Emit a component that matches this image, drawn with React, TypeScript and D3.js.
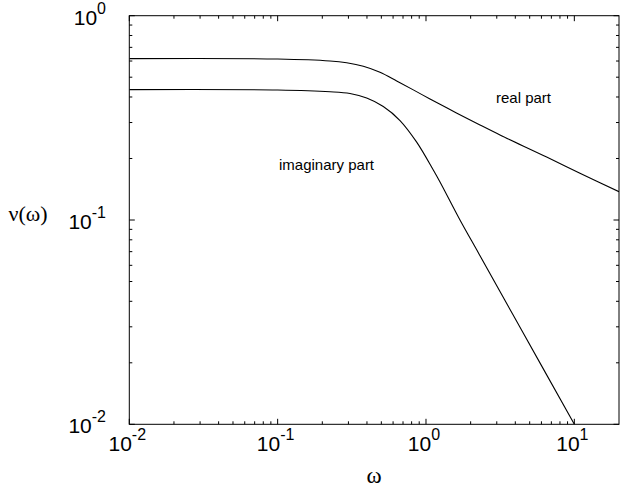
import React from "react";
import * as d3 from "d3";

// Real part of nu(omega)
const realOmega = [0.01, 0.1, 0.2254, 0.292, 0.3779, 0.4897, 0.6345, 0.8212, 1.064, 1.379, 1.784, 2.312, 3.153, 6.509, 10.91, 20.0];
const realValue = [0.6163, 0.6138, 0.6003, 0.5883, 0.5661, 0.529, 0.4795, 0.4335, 0.3911, 0.3540, 0.3212, 0.2917, 0.2607, 0.2034, 0.1693, 0.1376];

// Imaginary part of nu(omega)
const imagOmega = [0.01, 0.1, 0.2254, 0.3074, 0.3983, 0.5154, 0.6681, 0.8655, 1.12, 1.243, 1.695, 2.277, 4.369, 10];
const imagValue = [0.4345, 0.4328, 0.4246, 0.4161, 0.3955, 0.3594, 0.3069, 0.2405, 0.1757, 0.1535, 0.1, 0.0682, 0.02927, 0.01];

const xTickExps = [-2, -1, 0, 1];
const yTickExps = [-2, -1, 0];
const seriesLabels = ["real part", "imaginary part"];

const W = 621;
const H = 488;
const left = 129.3, right = 619, top = 15.7, bottom = 424.3;

export default function App() {
  const x = d3.scaleLog().domain([0.01, 20]).range([left, right]);
  const y = d3.scaleLog().domain([0.01, 1]).range([bottom, top]);

  const line = d3
    .line<[number, number]>()
    .x((d) => x(d[0]))
    .y((d) => y(d[1]))
    .curve(d3.curveCatmullRom.alpha(0.5));

  const realPts = realOmega.map((w, i) => [w, realValue[i]] as [number, number]);
  const imagPts = imagOmega.map((w, i) => [w, imagValue[i]] as [number, number]);

  const xMinor: number[] = [];
  for (const e of [-2, -1, 0, 1]) {
    for (let k = 2; k <= 9; k++) {
      const v = k * Math.pow(10, e);
      if (v < 20) xMinor.push(v);
    }
  }
  const yMinor: number[] = [];
  for (const e of [-2, -1]) {
    for (let k = 2; k <= 9; k++) yMinor.push(k * Math.pow(10, e));
  }

  const major = 5.5;
  const minor = 3;
  const sans = "'Liberation Sans', Arial, Helvetica, sans-serif";
  const serif = "'Liberation Serif', 'Times New Roman', serif";

  return (
    <svg
      width={W}
      height={H}
      style={{ position: "absolute", left: 0, top: 0, background: "#fff" }}
    >
      <rect x={0} y={0} width={W} height={H} fill="#fff" />
      <g stroke="#000" strokeWidth={1}>
        {xTickExps.map((e) => {
          const px = x(Math.pow(10, e));
          return (
            <g key={"xM" + e}>
              <line x1={px} x2={px} y1={bottom} y2={bottom - major} />
              <line x1={px} x2={px} y1={top} y2={top + major} />
            </g>
          );
        })}
        {xMinor.map((v) => {
          const px = x(v);
          return (
            <g key={"xm" + v}>
              <line x1={px} x2={px} y1={bottom} y2={bottom - minor} />
              <line x1={px} x2={px} y1={top} y2={top + minor} />
            </g>
          );
        })}
        {yTickExps.map((e) => {
          const py = y(Math.pow(10, e));
          return (
            <g key={"yM" + e}>
              <line x1={left} x2={left + major} y1={py} y2={py} />
              <line x1={right} x2={right - major} y1={py} y2={py} />
            </g>
          );
        })}
        {yMinor.map((v) => {
          const py = y(v);
          return (
            <g key={"ym" + v}>
              <line x1={left} x2={left + minor} y1={py} y2={py} />
              <line x1={right} x2={right - minor} y1={py} y2={py} />
            </g>
          );
        })}
      </g>

      <defs>
        <clipPath id="plotclip">
          <rect x={left} y={top} width={right - left} height={bottom - top} />
        </clipPath>
      </defs>
      <g clipPath="url(#plotclip)" fill="none" stroke="#000" strokeWidth={1.1}>
        <path d={line(realPts) || ""} />
        <path d={line(imagPts) || ""} />
      </g>

      <rect
        x={left}
        y={top}
        width={right - left}
        height={bottom - top}
        fill="none"
        stroke="#000"
        strokeWidth={1}
      />

      <g fontFamily={sans} fill="#000">
        {xTickExps.map((e) => (
          <text key={"xl" + e} x={x(Math.pow(10, e)) - 2} y={451} fontSize={21} textAnchor="middle">
            <tspan>10</tspan>
            <tspan dy={-11} fontSize={16}>{String(e)}</tspan>
          </text>
        ))}
        {yTickExps.map((e) => (
          <text key={"yl" + e} x={106} y={y(Math.pow(10, e)) + 9} fontSize={21} textAnchor="end">
            <tspan>10</tspan>
            <tspan dy={-11} fontSize={16}>{String(e)}</tspan>
          </text>
        ))}
        <text x={496} y={103} fontSize={15}>{seriesLabels[0]}</text>
        <text x={279} y={170} fontSize={15}>{seriesLabels[1]}</text>
      </g>

      <g fontFamily={serif} fill="#000">
        <text x={(left + right) / 2} y={483} fontSize={23} textAnchor="middle">ω</text>
        <text x={28} y={221} fontSize={22} textAnchor="middle">ν(ω)</text>
      </g>
    </svg>
  );
}
